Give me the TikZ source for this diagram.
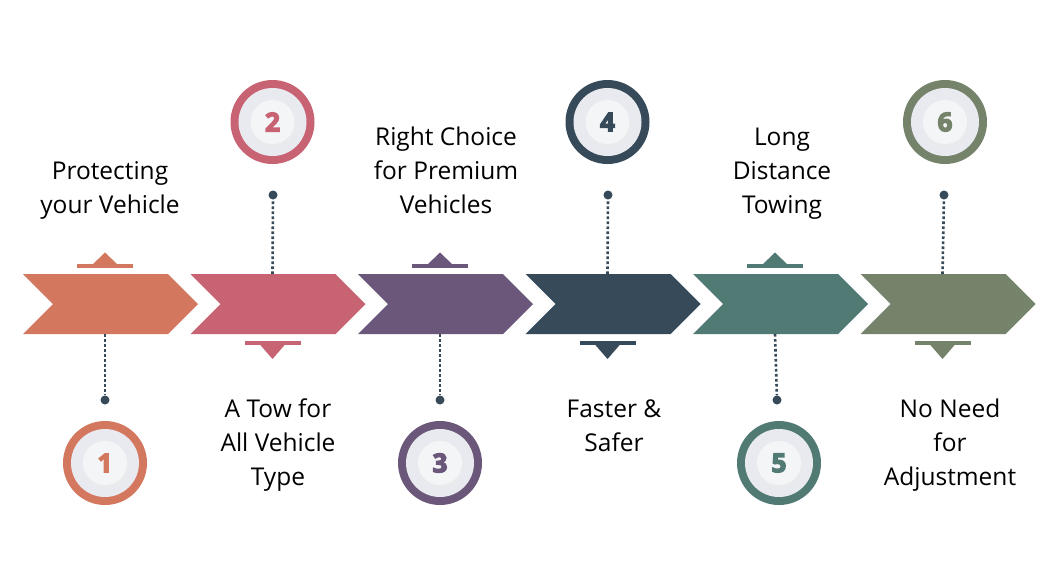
\documentclass[tikz,border=0pt]{standalone}
\usepackage{fontspec}
\setmainfont{Open Sans}
\usetikzlibrary{calc}
\definecolor{cA}{HTML}{D4775F}
\definecolor{cB}{HTML}{C86374}
\definecolor{cC}{HTML}{6A5779}
\definecolor{cD}{HTML}{374A5A}
\definecolor{cE}{HTML}{517A74}
\definecolor{cF}{HTML}{76836B}
\definecolor{dotc}{HTML}{374A5A}
\definecolor{diskc}{HTML}{E9EAEF}
\definecolor{innerc}{HTML}{F4F5F7}
\newcommand{\heavy}[1]{\special{pdf:literal direct 2 Tr 1.3 w}#1\special{pdf:literal direct 0 Tr}}
\begin{document}
\begin{tikzpicture}[x=1pt,y=-1pt,
  lbl/.style={font=\fontsize{24.5}{34}\selectfont, align=center, text=black, inner sep=0pt, anchor=base},
  numring/.style={circle, minimum size=84pt, inner sep=0pt, fill=#1},
  endpt/.style={circle, fill=dotc, minimum size=9pt, inner sep=0pt},
  dotline/.style={dotc, line width=2.6pt, dash pattern=on 2.6pt off 2.4pt},
]
\useasboundingbox (0,0) rectangle (1060,587);
\fill[white] (0,0) rectangle (1060,587);

% chevrons
\foreach \i/\c in {0/cA,1/cB,2/cC,3/cD,4/cE,5/cF}{
  \pgfmathsetmacro{\L}{23+167.5*\i}
  \fill[\c] (\L,274) -- (\L+145,274) -- (\L+175,304) -- (\L+145,334) -- (\L,334) -- (\L+30,304) -- cycle;
  \coordinate (cT\i) at (\L+82,274);
  \coordinate (cB\i) at (\L+82,334);
}

% up markers (odd items) and down markers (even items)
\foreach \i/\c in {0/cA,2/cC,4/cE}{
  \pgfmathsetmacro{\X}{105+167.5*\i}
  \fill[\c] (\X-28,264) rectangle (\X+28,267.5);
  \fill[\c] (\X-13,265) -- (\X,252.5) -- (\X+13,265) -- cycle;
}
\foreach \i/\c in {1/cB,3/cD,5/cF}{
  \pgfmathsetmacro{\X}{105+167.5*\i}
  \fill[\c] (\X-28,341) rectangle (\X+28,344.5);
  \fill[\c] (\X-13,344) -- (\X,359) -- (\X+13,344) -- cycle;
}

% number circles
\newcommand{\numcircle}[5]{% name, x, y, color, number
  \fill[black!12] (#2+1,#3+2.5) circle (34pt);
  \node[numring=#4] (#1) at (#2,#3) {};
  \fill[diskc] (#2,#3) circle (34pt);
  \fill[black!8] (#2+0.8,#3+2.2) circle (22pt);
  \fill[innerc] (#2,#3) circle (22pt);
  \node[font=\fontsize{26}{26}\selectfont\bfseries, text=#4, inner sep=0pt] (#1t) at (#2,#3) {\heavy{#5}};
}
\numcircle{n1}{105}{463}{cA}{1}
\numcircle{n2}{272.5}{122}{cB}{2}
\numcircle{n3}{440}{463}{cC}{3}
\numcircle{n4}{607.5}{122}{cD}{4}
\numcircle{n5}{779}{463}{cE}{5}
\numcircle{n6}{945}{122}{cF}{6}

% dots and dotted connectors
\node[endpt] (d1) at (105,400) {};
\node[endpt] (d2) at (273,195) {};
\node[endpt] (d3) at (440,400) {};
\node[endpt] (d4) at (608,195) {};
\node[endpt] (d5) at (777,400) {};
\node[endpt] (d6) at (944,195) {};
\draw[dotline] (cB0) -- (d1);
\draw[dotline] (cT1) -- (d2);
\draw[dotline] (cB2) -- (d3);
\draw[dotline] (cT3) -- (d4);
\draw[dotline] (cB4) -- (d5);
\draw[dotline] (cT5) -- (d6);

% labels (base anchor = baseline of last line)
\node[lbl] (t1) at (110,213) {Protecting\\your Vehicle};
\node[lbl] (t3) at (446,213) {Right Choice\\for Premium\\Vehicles};
\node[lbl] (t5) at (782,213) {Long\\Distance\\Towing};
\node[lbl] (t2) at (278,485) {A Tow for\\All Vehicle\\Type};
\node[lbl] (t4) at (614,451) {Faster \&\\Safer};
\node[lbl] (t6) at (950,485) {No Need\\for\\Adjustment};
\end{tikzpicture}
\end{document}
